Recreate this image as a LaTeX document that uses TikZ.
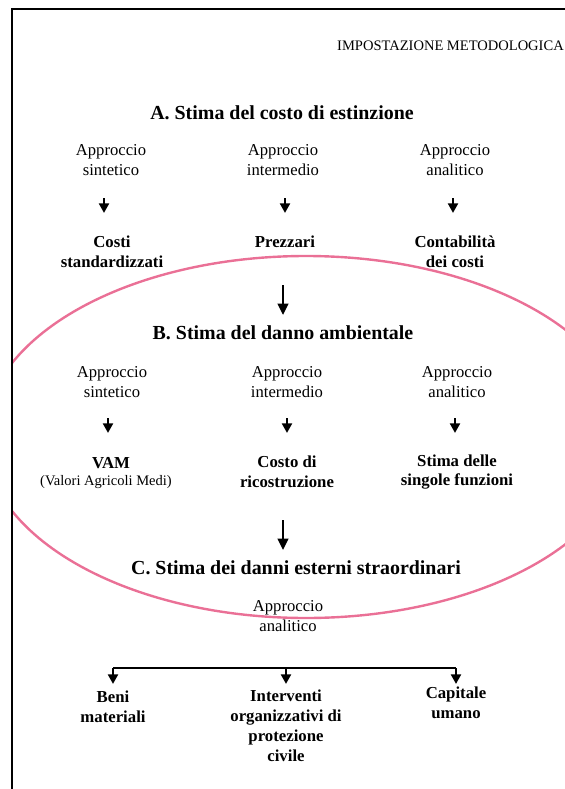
\documentclass[tikz,border=0pt]{standalone}
\usepackage{fontspec}
\setmainfont{Liberation Serif}
\usetikzlibrary{arrows.meta}

\newlength{\du}
\setlength{\du}{0.03cm}
\definecolor{ringcolor}{RGB}{234,112,150}

\tikzset{
  plaintext/.style={align=center, inner sep=0pt, font=\fontsize{14.2}{17}\selectfont},
  boldtext/.style={align=center, inner sep=0pt, font=\fontsize{14.3}{17}\selectfont\bfseries},
  heading/.style={inner sep=0pt, font=\fontsize{17}{20}\selectfont\bfseries},
  smallarrow/.style={line width=2.5\du, -{Triangle[width=8.4pt,length=8.2pt]}},
  bigarrow/.style={line width=2.7\du, -{Triangle[width=9pt,length=9.8pt]}},
}

\begin{document}
\begin{tikzpicture}
\pgftransformxscale{1.000000}
\pgftransformyscale{-1.000000}
\clip (0\du,0\du) rectangle (565\du,789\du);
% page frame and running head
\draw[line width=2.2\du] (12\du,789\du) -- (12\du,9\du) -- (565\du,9\du);
\node[anchor=east, inner sep=0pt, font=\fontsize{12.4}{14}\selectfont] (runhead) at (564\du,46\du){IMPOSTAZIONE METODOLOGICA};
% ring round B, kept on the page
\begin{scope}
\clip (13\du,10\du) rectangle (565\du,789\du);
\draw[ringcolor, line width=2.4\du] (306\du,437\du) ellipse [x radius=322\du, y radius=181\du];
\end{scope}
% A
\node[heading] (stimaA) at (282\du,113\du){A. Stima del costo di estinzione};
\node[plaintext] (apA1) at (111\du,160\du){Approccio\\sintetico};
\node[plaintext] (apA2) at (283\du,160\du){Approccio\\intermedio};
\node[plaintext] (apA3) at (455\du,160\du){Approccio\\analitico};
\node[boldtext] (resA1) at (112\du,252\du){Costi\\standardizzati};
\node[boldtext] (resA2) at (285\du,242\du){Prezzari};
\node[boldtext] (resA3) at (455\du,252\du){Contabilità\\dei costi};
\draw[smallarrow, shorten <=38\du, shorten >=39\du] ([xshift=-7\du]apA1.center) -- ([xshift=-7\du]apA1.center |- resA1.center);
\draw[smallarrow, shorten <=38\du, shorten >=29\du] (apA2.center -| resA2) -- (resA2.center);
\draw[smallarrow, shorten <=38\du, shorten >=39\du] ([xshift=-2\du]apA3.center) -- ([xshift=-2\du]resA3.center);
% B
\node[heading] (stimaB) at (283\du,333\du){B. Stima del danno ambientale};
\draw[bigarrow, shorten <=43\du, shorten >=18\du] (resA2.center -| stimaB) -- (stimaB.center);
\node[plaintext] (apB1) at (112\du,382\du){Approccio\\sintetico};
\node[plaintext] (apB2) at (287\du,382\du){Approccio\\intermedio};
\node[plaintext] (apB3) at (457\du,382\du){Approccio\\analitico};
\node[boldtext] (resB1) at (111\du,463\du){VAM};
\node[inner sep=0pt, font=\fontsize{12.4}{14}\selectfont] (gloss) at (106\du,482\du){(Valori Agricoli Medi)};
\node[boldtext] (resB2) at (287\du,472\du){Costo di\\ricostruzione};
\node[boldtext] (resB3) at (457\du,472\du){Stima delle\\singole funzioni};
\draw[smallarrow, shorten <=36\du, shorten >=30\du] ([xshift=-4\du]apB1.center) -- ([xshift=-4\du]apB1.center |- resB1.center);
\draw[smallarrow, shorten <=36\du, shorten >=39\du] (apB2.center) -- (resB2.center);
\draw[smallarrow, shorten <=36\du, shorten >=39\du] ([xshift=-2\du]apB3.center) -- ([xshift=-2\du]resB3.center);
% C
\node[heading] (stimaC) at (296\du,568\du){C. Stima dei danni esterni straordinari};
\draw[bigarrow, shorten <=48\du, shorten >=18\du] ([xshift=-4\du]resB2.center) -- ([xshift=-4\du]resB2.center |- stimaC.center);
\node[plaintext] (apC) at (288\du,616\du){Approccio\\analitico};
\coordinate (fork) at (285\du,668\du);
\node[boldtext] (resC1) at (113\du,707\du){Beni\\materiali};
\node[boldtext] (resC2) at (286\du,726\du){Interventi\\organizzativi di\\protezione\\civile};
\node[boldtext] (resC3) at (456\du,703\du){Capitale\\umano};
\draw[line width=2\du] (fork -| resC1) -- (fork -| resC3);
\draw[smallarrow, shorten >=23\du] (fork -| resC1) -- (resC1.center);
\draw[smallarrow, shorten >=42\du] (fork -| resC2) -- (resC2.center);
\draw[smallarrow, shorten >=19\du] (fork -| resC3) -- (resC3.center);
\end{tikzpicture}
\end{document}
